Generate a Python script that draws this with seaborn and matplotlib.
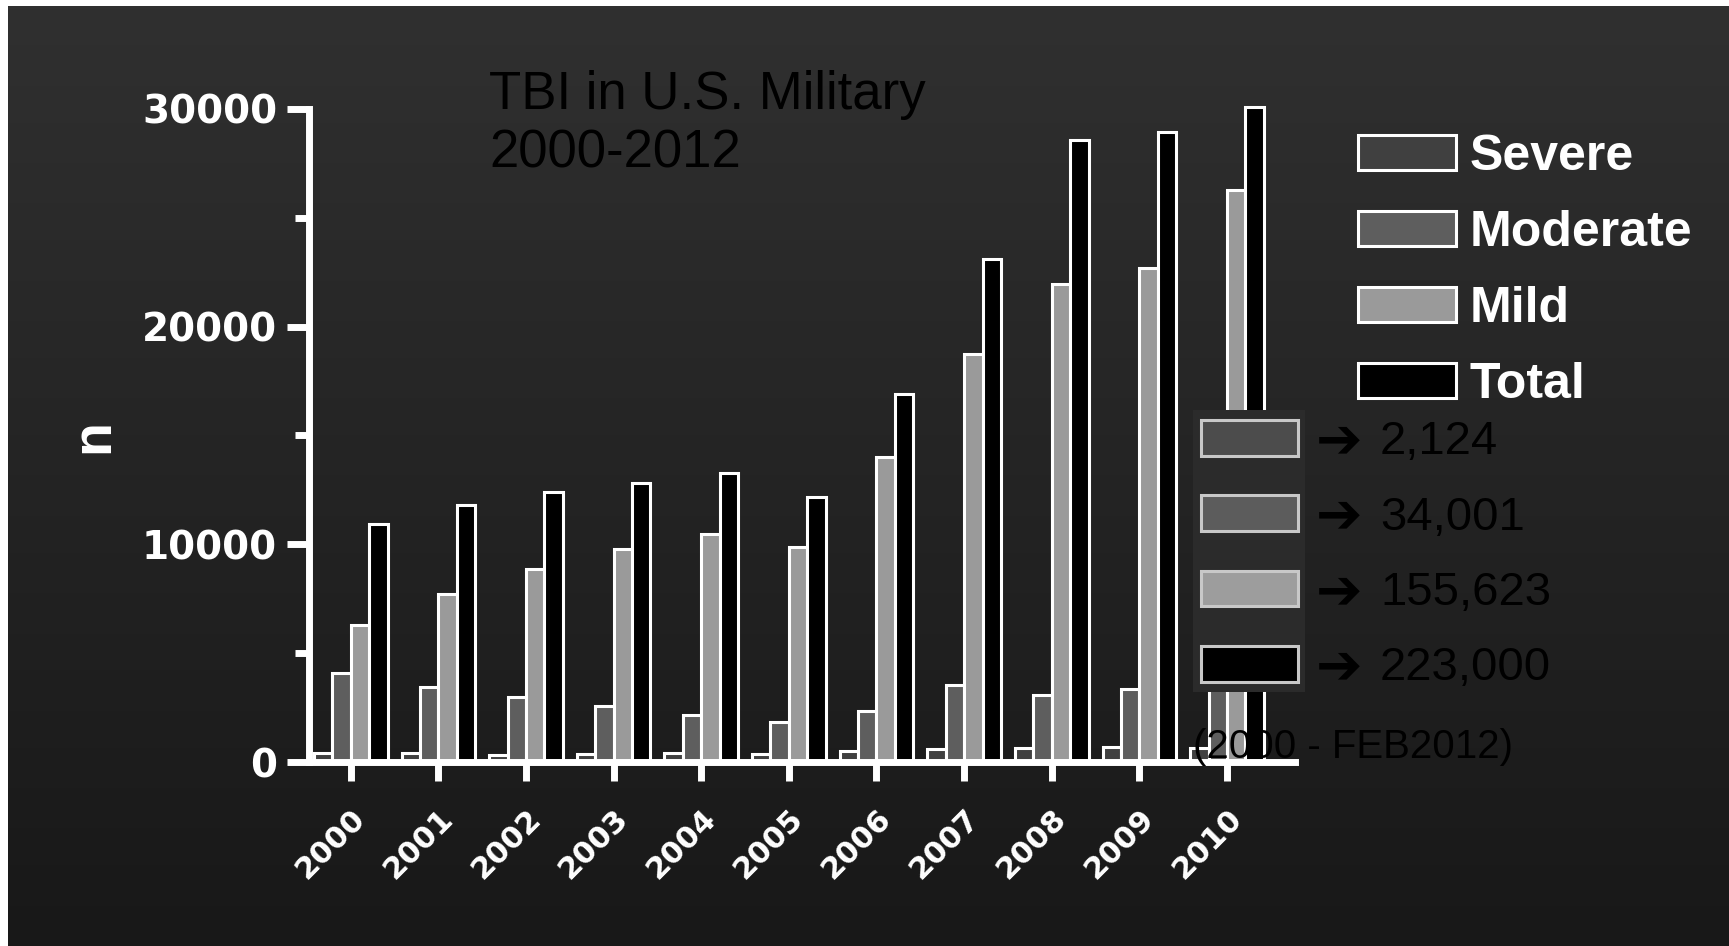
import numpy as np
import pandas as pd
import matplotlib
matplotlib.use("Agg")
import matplotlib.pyplot as plt
import seaborn as sns
from matplotlib.patches import Patch, Rectangle
from matplotlib.colors import LinearSegmentedColormap
from matplotlib.font_manager import FontProperties

# ---------------- data ----------------
years = ["2000", "2001", "2002", "2003", "2004", "2005",
         "2006", "2007", "2008", "2009", "2010"]
severe = [400, 430, 320, 380, 400, 370, 490, 600, 630, 670, 650]
moderate = [4100, 3450, 2990, 2570, 2160, 1820, 2330, 3520, 3060, 3360, 3600]
mild = [6280, 7700, 8880, 9770, 10490, 9880, 14030, 18750, 21980, 22680, 26270]
total = [10920, 11800, 12400, 12830, 13260, 12180, 16900, 23120, 28580, 28950, 30090]

categories = ["Severe", "Moderate", "Mild", "Total"]
bar_colors = ["#404040", "#5e5e5e", "#9a9a9a", "#000000"]
summary_values = ["2,124", "34,001", "155,623", "223,000"]
summary_colors = ["#4c4c4c", "#5c5c5c", "#9d9d9d", "#000000"]
period_note = "(2000 - FEB2012)"
title_text = "TBI in U.S. Military\n2000-2012"
y_major = [0, 10000, 20000, 30000]
y_minor = [5000, 15000, 25000]

# ---------------- style ----------------
sns.set_style("ticks")
plt.rcParams["font.family"] = ["Liberation Sans", "DejaVu Sans"]

W, H = 1729, 946
fig = plt.figure(figsize=(W / 100, H / 100), dpi=100, facecolor="white")


def fx(px):
    return px / W


def fy(py):
    return 1 - py / H


# gradient background
bg = fig.add_axes([8 / W, 0, 1 - 8 / W, 1 - 6 / H], zorder=-10)
grad = np.linspace(0, 1, 256).reshape(-1, 1)
bg_cmap = LinearSegmentedColormap.from_list("bg", ["#303030", "#181818"])
bg.imshow(grad, aspect="auto", cmap=bg_cmap, extent=[0, 1, 0, 1], origin="upper")
bg.axis("off")

# main axes
ax_left, ax_right, ax_top, ax_bottom = 309, 1295, 109, 762
ax = fig.add_axes([fx(ax_left), fy(ax_bottom), (ax_right - ax_left) / W,
                   (ax_bottom - ax_top) / H])
ax.set_facecolor("none")

df = pd.DataFrame({"Year": years, "Severe": severe, "Moderate": moderate,
                   "Mild": mild, "Total": total})
long_df = df.melt(id_vars="Year", var_name="Severity", value_name="n")

sns.barplot(data=long_df, x="Year", y="n", hue="Severity", hue_order=categories,
            palette=dict(zip(categories, bar_colors)), saturation=1,
            width=0.84, edgecolor="white", linewidth=2.2, errorbar=None,
            legend=False, ax=ax)
for p in ax.patches:
    p.set_clip_on(False)

# limits
c0, c10 = 350.7, 1227.0
step = (c10 - c0) / 10
ax.set_xlim(-(c0 - ax_left) / step, 10 + (ax_right - c10) / step)
ax.set_ylim(0, 30000)

# spines
for s in ["top", "right"]:
    ax.spines[s].set_visible(False)
for s in ["left", "bottom"]:
    ax.spines[s].set_color("white")
    ax.spines[s].set_linewidth(5)
    ax.spines[s].set_capstyle("projecting")

ax.set_yticks(y_major)
ax.set_yticks(y_minor, minor=True)
ax.set_yticklabels([str(v) for v in y_major])
ax.tick_params(axis="y", which="major", length=16, width=5, color="white",
               pad=7, labelsize=28, labelcolor="white")
ax.tick_params(axis="y", which="minor", length=10, width=5, color="white")
for lab in ax.get_yticklabels():
    lab.set_fontfamily("DejaVu Sans")
    lab.set_fontweight("bold")

ax.tick_params(axis="x", which="major", length=14, width=5, color="white",
               pad=16, labelsize=22, labelcolor="white")
for lab in ax.get_xticklabels():
    lab.set_fontfamily("DejaVu Sans")
    lab.set_fontweight("bold")
    lab.set_rotation(45)
    lab.set_ha("right")
    lab.set_va("top")
    lab.set_rotation_mode("anchor")

ax.set_xlabel("")
ax.set_ylabel("n", fontsize=40, fontweight="bold", color="white",
              fontfamily="Liberation Sans")
ax.yaxis.set_label_coords((120 - ax_left) / (ax_right - ax_left), 0.5)

# title (baseline of the last line)
fig.text(fx(489), fy(167), title_text, fontsize=38, color="black",
         ha="left", va="baseline", linespacing=1.2)

# main legend
handles = [Patch(facecolor=c, edgecolor="white", linewidth=2.2) for c in bar_colors]
leg = ax.legend(handles, categories, loc="upper left",
                bbox_to_anchor=(fx(1358), fy(134)), bbox_transform=fig.transFigure,
                frameon=False,
                prop=FontProperties(family=["Liberation Sans"], weight="bold", size=36),
                handlelength=1.96, handleheight=0.72, handletextpad=0.27,
                labelspacing=0.6, borderpad=0, borderaxespad=0)
for t in leg.get_texts():
    t.set_color("white")
ax.add_artist(leg)

# inset summary box
box = Rectangle((fx(1193), fy(692)), fx(1305) - fx(1193), (692 - 410) / H,
                transform=fig.transFigure, facecolor="#2b2b2b", edgecolor="none",
                clip_on=False, zorder=4)
ax.add_patch(box)

sum_handles = [Patch(facecolor=c, edgecolor="#c8c8c8", linewidth=2.2)
               for c in summary_colors]
num_fs = 34
num_px = num_fs * 100 / 72
leg2 = ax.legend(sum_handles, summary_values, loc="upper left",
                 bbox_to_anchor=(fx(1201), fy(420)), bbox_transform=fig.transFigure,
                 frameon=False,
                 prop=FontProperties(family=["Liberation Sans"], size=num_fs),
                 handlelength=97 / num_px, handleheight=37 / num_px,
                 handletextpad=(1380 - 1298) / num_px,
                 labelspacing=0.66, borderpad=0, borderaxespad=0)
leg2.set_zorder(6)
for t in leg2.get_texts():
    t.set_color("black")

# arrows next to each summary entry, aligned with legend rows
fig.canvas.draw()
inv = fig.transFigure.inverted()
for t in leg2.get_texts():
    bb = t.get_window_extent()
    yc = inv.transform((0, (bb.y0 + bb.y1) / 2))[1]
    fig.text(fx(1316), yc, "\u2794", fontsize=40, color="black",
             fontfamily="DejaVu Sans", ha="left", va="center", zorder=10)

fig.text(fx(1193), fy(747), period_note, fontsize=29, color="black",
         ha="left", va="center", zorder=10)

fig.savefig("out.png", dpi=100, facecolor=fig.get_facecolor())
